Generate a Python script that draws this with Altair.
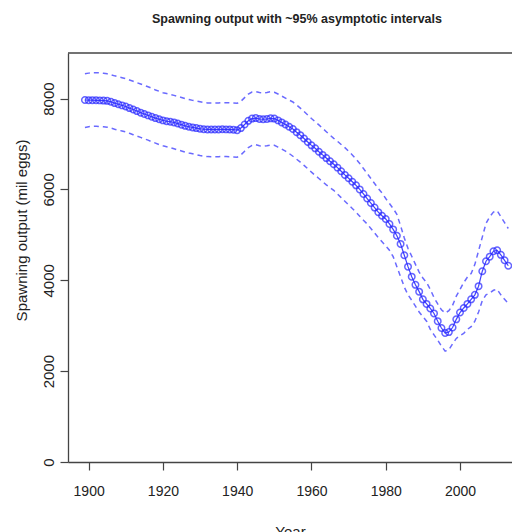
import altair as alt
import pandas as pd

years = list(range(1899, 2014))

spawning = [
    7968, 7965, 7965, 7962, 7960, 7955, 7950, 7930, 7900, 7875,
    7850, 7825, 7790, 7760, 7725, 7690, 7660, 7630, 7600, 7570,
    7545, 7520, 7500, 7490, 7475, 7450, 7425, 7400, 7380, 7365,
    7350, 7335, 7325, 7320, 7320, 7318, 7320, 7325, 7322, 7318,
    7315, 7305, 7350, 7430, 7510, 7560, 7570, 7550, 7545, 7550,
    7565, 7560, 7520, 7475, 7430, 7380, 7330, 7260, 7195, 7120,
    7045, 6970, 6905, 6830, 6760, 6690, 6620, 6555, 6480, 6400,
    6320, 6245, 6170, 6090, 6000, 5900, 5800, 5700, 5600, 5500,
    5420, 5350, 5240, 5120, 4980, 4800, 4550, 4300, 4080, 3900,
    3750, 3580, 3480, 3380, 3270, 3100, 2950, 2840, 2860, 2960,
    3140, 3290, 3390, 3480, 3580, 3680, 3870, 4200, 4420, 4520,
    4640, 4660, 4560, 4440, 4320,
]

upper = [
    8545, 8560, 8568, 8570, 8565, 8555, 8545, 8525, 8500, 8480,
    8460, 8440, 8410, 8380, 8350, 8320, 8290, 8260, 8225, 8190,
    8160, 8130, 8110, 8090, 8070, 8050, 8025, 8000, 7980, 7960,
    7945, 7930, 7915, 7905, 7900, 7900, 7905, 7910, 7910, 7905,
    7900, 7895, 7940, 8020, 8100, 8145, 8155, 8135, 8125, 8135,
    8150, 8140, 8100, 8055, 8010, 7965, 7925, 7860, 7790, 7715,
    7640, 7560, 7490, 7420, 7345, 7270, 7195, 7125, 7060, 6990,
    6920, 6840, 6760, 6670, 6570, 6460, 6350, 6240, 6130, 6020,
    5920, 5800, 5690, 5580, 5450, 5200, 4930, 4700, 4530, 4350,
    4180, 4050, 3950, 3800, 3620, 3480, 3350, 3280, 3330, 3450,
    3650, 3800, 3950, 4070, 4150, 4350, 4650, 4950, 5250, 5400,
    5500, 5530, 5400, 5270, 5140,
]

lower = [
    7365, 7380, 7388, 7390, 7385, 7378, 7370, 7350, 7325, 7305,
    7285, 7265, 7235, 7205, 7175, 7145, 7115, 7085, 7050, 7020,
    6985, 6960, 6940, 6920, 6895, 6870, 6845, 6820, 6800, 6785,
    6765, 6745, 6730, 6722, 6720, 6718, 6720, 6725, 6722, 6718,
    6715, 6710, 6760, 6840, 6920, 6970, 6985, 6960, 6950, 6960,
    6975, 6970, 6930, 6890, 6845, 6790, 6730, 6665, 6600, 6530,
    6455, 6380, 6310, 6240, 6170, 6100, 6040, 5980, 5900, 5820,
    5740, 5660, 5580, 5500, 5410, 5320, 5240, 5140, 5040, 4940,
    4850, 4760, 4660, 4520, 4300, 4080, 3850, 3680, 3560, 3430,
    3300, 3200, 3100, 2920, 2800, 2680, 2550, 2440, 2470, 2600,
    2720, 2780, 2830, 2920, 2980, 3100, 3300, 3550, 3680, 3720,
    3780, 3800, 3680, 3580, 3490,
]

x_ticks = [1900, 1920, 1940, 1960, 1980, 2000]
y_ticks = [0, 2000, 4000, 6000, 8000]

df = pd.DataFrame({"Year": years, "so": spawning, "hi": upper, "lo": lower})

REG = "Liberation Sans, Arial, sans-serif"

xscale = alt.Scale(domain=[1894.44, 2014.0], nice=False, zero=False)
yscale = alt.Scale(domain=[0, 9003], nice=False, zero=False)

xaxis = alt.Axis(
    values=x_ticks, format="d", grid=False, tickSize=8, tickColor="#444",
    domainColor="#444", domainWidth=1.3, tickWidth=1.2,
    labelFont=REG, labelFontSize=14, labelColor="#222", labelPadding=14,
    title="Year", titleFont=REG, titleFontSize=15, titleFontWeight="normal",
    titleColor="#222", titleY=62, titleBaseline="top",
)
yaxis = alt.Axis(
    values=y_ticks, format="d", grid=False, tickSize=8, tickColor="#444",
    domainColor="#444", domainWidth=1.3, tickWidth=1.2,
    labelFont=REG, labelFontSize=15, labelColor="#222", labelAngle=-90,
    labelAlign="center", labelBaseline="alphabetic", labelPadding=7,
    title="Spawning output (mil eggs)", titleFont=REG, titleFontSize=15,
    titleFontWeight="normal", titleColor="#222", titleAngle=-90,
    titleAlign="center", titleBaseline="middle", titleX=-47, titleY=177,
)

base = alt.Chart(df)

hi_line = base.mark_line(color="#5050ff", strokeWidth=1.5, strokeDash=[5, 4], opacity=0.85, clip=True).encode(
    x=alt.X("Year:Q", scale=xscale, axis=xaxis),
    y=alt.Y("hi:Q", scale=yscale, axis=yaxis),
)
lo_line = base.mark_line(color="#5050ff", strokeWidth=1.5, strokeDash=[5, 4], opacity=0.85, clip=True).encode(
    x=alt.X("Year:Q", scale=xscale),
    y=alt.Y("lo:Q", scale=yscale),
)
so_line = base.mark_line(color="#2020ff", strokeWidth=1.2, opacity=0.85, clip=True).encode(
    x=alt.X("Year:Q", scale=xscale),
    y=alt.Y("so:Q", scale=yscale),
)
so_pts = base.mark_point(shape="circle", filled=False, color="#2a2aff", size=42, strokeWidth=1.5, opacity=0.72, clip=True).encode(
    x=alt.X("Year:Q", scale=xscale),
    y=alt.Y("so:Q", scale=yscale),
)
top_border = alt.Chart(pd.DataFrame({"k": [0]})).mark_rule(color="#444", strokeWidth=1.3).encode(
    x=alt.value(0), x2=alt.value(444), y=alt.value(0)
)

chart = alt.layer(hi_line, lo_line, so_line, so_pts, top_border).properties(
    width=444,
    height=409,
    padding={"left": 68, "top": 53, "right": 0, "bottom": 70},
    autosize=alt.AutoSizeParams(type="none"),
    background="white",
    title=alt.TitleParams(
        "Spawning output with ~95% asymptotic intervals",
        font=REG, fontSize=12.5, fontWeight="bold", color="#222",
        anchor="middle", baseline="middle", offset=21, dx=7,
    ),
).configure_view(stroke="transparent")

chart.save("out.html", embed_options={"renderer": "svg", "actions": False})
